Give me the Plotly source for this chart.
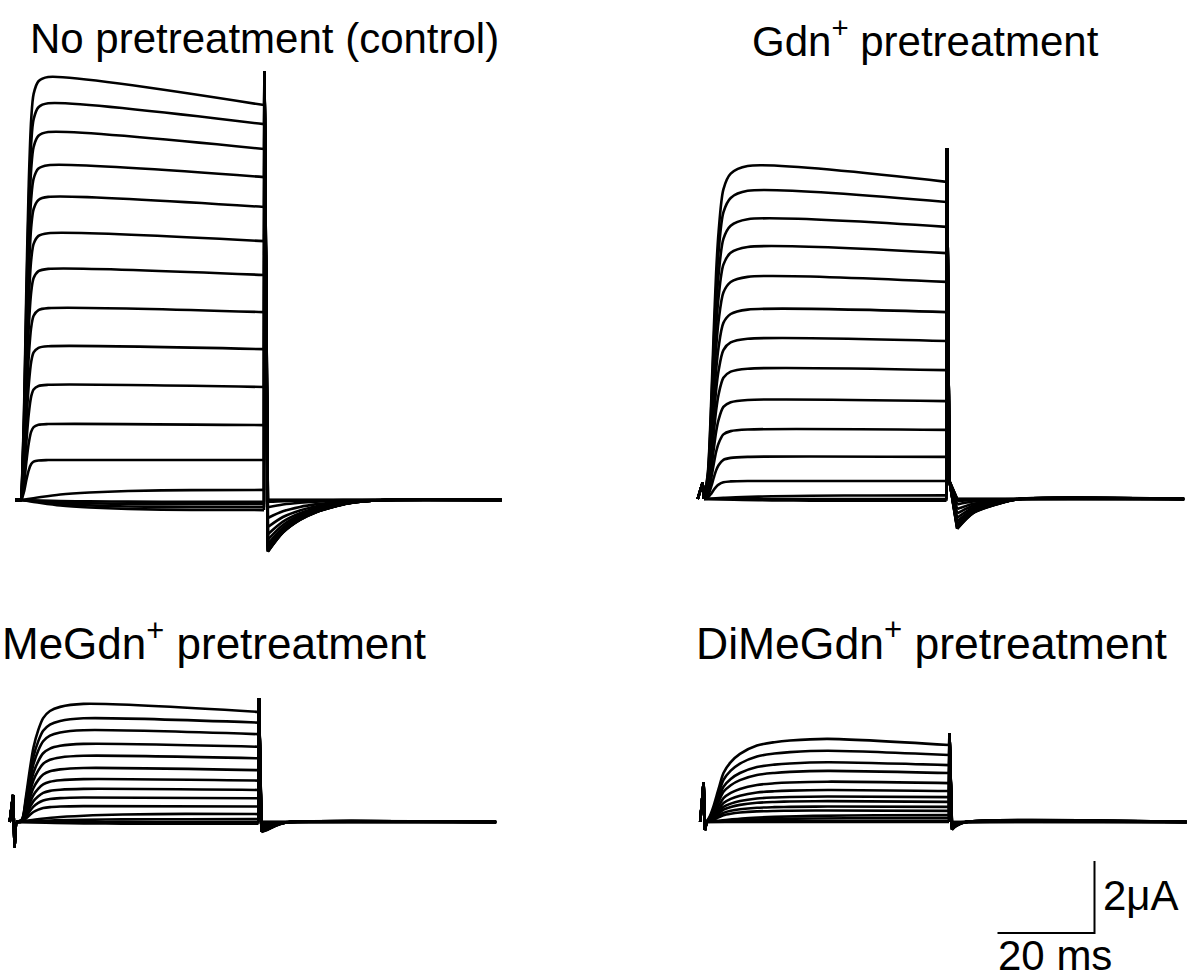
import plotly.graph_objects as go

W, H = 1189, 980
PX_PER_MS = 4.85      # horizontal scale (20 ms bar = 97 px)
PX_PER_UA = 36.0      # vertical scale (2 uA bar = 72 px)

STEP_MS = 50.0
T_START = -1.3
T_STOP = 99.0
SCALE_T = 20.0
SCALE_I = 2.0

# slow shape used for sweeps with tiny amplitude
SMALL_RISE_T = [0, 4, 8, 14, 22, 35]
SMALL_RISE_F = [0, 0.3, 0.55, 0.75, 0.9, 0.98]

# ---------------- No pretreatment (control) ----------------
CTRL_END = [10.97, 10.44, 9.75, 8.97, 8.14, 7.19, 6.25, 5.22, 4.19, 3.14, 2.08, 1.11, 0.28, -0.05, -0.12, -0.20, -0.28]
CTRL_PEAK = [11.75, 11.02, 10.22, 9.30, 8.42, 7.41, 6.42, 5.33, 4.27, 3.20, 2.11, 1.11, 0.28, -0.05, -0.12, -0.20, -0.28]
CTRL_TAIL = [-1.44, -1.43, -1.42, -1.40, -1.38, -1.35, -1.30, -1.22, -1.10, -0.95, -0.75, -0.50, -0.20, -0.05, 0.0, 0.0, 0.0]
CTRL_RISE_T = [0, 0.5, 1.0, 1.5, 2.0, 2.5, 3.5, 5.5]
CTRL_RISE_F = [0, 0.2, 0.5, 0.75, 0.9, 0.96, 0.99, 1.0]
CTRL_START_T, CTRL_START_V = [], []
CTRL_OFF_T, CTRL_OFF_V = [0.1], [11.9]
CTRL_TAIL_T = [0.8, 3.9, 7.4, 10.9, 14.2, 17.7, 25.0]
CTRL_TAIL_F = [1.0, 0.63, 0.385, 0.23, 0.135, 0.06, 0.0]

# ---------------- Gdn+ pretreatment ----------------
GDN_END = [8.81, 8.25, 7.56, 6.83, 6.03, 5.19, 4.39, 3.58, 2.72, 1.92, 1.17, 0.50, 0.10, 0.0, -0.05]
GDN_PEAK = [9.25, 8.56, 7.77, 7.00, 6.17, 5.26, 4.45, 3.62, 2.75, 1.93, 1.17, 0.50, 0.10, 0.0, -0.05]
GDN_TAIL = [-0.83, -0.82, -0.80, -0.78, -0.75, -0.70, -0.62, -0.52, -0.40, -0.28, -0.15, -0.06, 0.0, 0.0, 0.0]
GDN_RISE_T = [0, 0.8, 1.5, 2.0, 2.5, 3.0, 4.0, 5.5, 9.0]
GDN_RISE_F = [0, 0.08, 0.3, 0.5, 0.68, 0.8, 0.93, 0.977, 1.0]
GDN_START_T, GDN_START_V = [-0.3], [0.45]
GDN_OFF_T, GDN_OFF_V = [0.1, 0.6], [9.75, 0.5]
GDN_TAIL_T = [2.2, 5.5, 10.5, 15.0]
GDN_TAIL_F = [1.0, 0.47, 0.17, 0.0]

# ---------------- MeGdn+ pretreatment ----------------
MEGDN_END = [3.06, 2.76, 2.44, 2.09, 1.77, 1.44, 1.15, 0.89, 0.66, 0.43, 0.22, 0.08, 0.0, -0.05]
MEGDN_PEAK = [3.28, 2.88, 2.55, 2.17, 1.84, 1.50, 1.19, 0.92, 0.68, 0.44, 0.23, 0.08, 0.0, -0.05]
MEGDN_TAIL = [-0.28, -0.27, -0.26, -0.25, -0.23, -0.21, -0.18, -0.15, -0.12, -0.08, -0.05, 0.0, 0.0, 0.0]
MEGDN_RISE_T = [0, 1.2, 2.0, 2.8, 3.6, 4.6, 5.6, 7.0, 9.1, 13.9]
MEGDN_RISE_F = [0, 0.02, 0.2, 0.43, 0.63, 0.78, 0.88, 0.94, 0.975, 1.0]
MEGDN_START_T, MEGDN_START_V = [-0.6, -0.3], [0.75, -0.7]
MEGDN_OFF_T, MEGDN_OFF_V = [0.1], [3.44]
MEGDN_TAIL_T = [0.6, 1.75, 3.0, 4.5, 6.5]
MEGDN_TAIL_F = [1.0, 0.8, 0.5, 0.2, 0.0]

# ---------------- DiMeGdn+ pretreatment ----------------
DIMEGDN_END = [2.14, 1.86, 1.58, 1.36, 1.08, 0.86, 0.69, 0.56, 0.42, 0.31, 0.19, 0.11, 0.03, 0.0]
DIMEGDN_PEAK = [2.31, 1.98, 1.66, 1.42, 1.12, 0.89, 0.71, 0.58, 0.43, 0.32, 0.19, 0.11, 0.03, 0.0]
DIMEGDN_TAIL = [-0.22, -0.21, -0.20, -0.19, -0.17, -0.15, -0.13, -0.11, -0.09, -0.07, -0.05, -0.03, 0.0, 0.0]
DIMEGDN_RISE_T = [0, 0.7, 1.4, 2.5, 3.5, 5.0, 6.9, 10.4, 14.0, 17.2, 25.0]
DIMEGDN_RISE_F = [0, 0.07, 0.18, 0.4, 0.59, 0.72, 0.82, 0.92, 0.96, 0.98, 1.0]
DIMEGDN_START_T, DIMEGDN_START_V = [-0.6, -0.3], [1.1, -0.22]
DIMEGDN_OFF_T, DIMEGDN_OFF_V = [0.1], [2.47]
DIMEGDN_TAIL_T = [0.6, 1.5, 3.5]
DIMEGDN_TAIL_F = [1.0, 0.5, 0.0]

TITLES = ["No pretreatment (control)", "Gdn<sup>+</sup> pretreatment",
          "MeGdn<sup>+</sup> pretreatment", "DiMeGdn<sup>+</sup> pretreatment"]

PANELS = [
    dict(end=CTRL_END, peak=CTRL_PEAK, tail=CTRL_TAIL, rt=CTRL_RISE_T, rf=CTRL_RISE_F,
         st=CTRL_START_T, sv=CTRL_START_V, ot=CTRL_OFF_T, ov=CTRL_OFF_V,
         tt=CTRL_TAIL_T, tf=CTRL_TAIL_F),
    dict(end=GDN_END, peak=GDN_PEAK, tail=GDN_TAIL, rt=GDN_RISE_T, rf=GDN_RISE_F,
         st=GDN_START_T, sv=GDN_START_V, ot=GDN_OFF_T, ov=GDN_OFF_V,
         tt=GDN_TAIL_T, tf=GDN_TAIL_F),
    dict(end=MEGDN_END, peak=MEGDN_PEAK, tail=MEGDN_TAIL, rt=MEGDN_RISE_T, rf=MEGDN_RISE_F,
         st=MEGDN_START_T, sv=MEGDN_START_V, ot=MEGDN_OFF_T, ov=MEGDN_OFF_V,
         tt=MEGDN_TAIL_T, tf=MEGDN_TAIL_F),
    dict(end=DIMEGDN_END, peak=DIMEGDN_PEAK, tail=DIMEGDN_TAIL, rt=DIMEGDN_RISE_T, rf=DIMEGDN_RISE_F,
         st=DIMEGDN_START_T, sv=DIMEGDN_START_V, ot=DIMEGDN_OFF_T, ov=DIMEGDN_OFF_V,
         tt=DIMEGDN_TAIL_T, tf=DIMEGDN_TAIL_F),
]

# layout anchors in page pixels: (x of t=0, y of baseline, left, right, top, bottom)
GEOM = [
    (21.5, 500, 0, 594, 60, 600),
    (704.0, 499, 594, 1189, 60, 600),
    (16.0, 822, 0, 594, 660, 980),
    (706.5, 822, 594, 1189, 660, 980),
]
TITLE_POS = [(28, 38, 42), (750, 38, 42), (0, 640, 44), (694, 640, 44.5)]
LINE_W = 2.6

fig = go.Figure()
layout = dict(width=W, height=H, autosize=False, margin=dict(l=0, r=0, t=0, b=0),
              paper_bgcolor="white", plot_bgcolor="white", showlegend=False)


def seg(ts, vs, ax, smooth):
    line = dict(color="black", width=LINE_W)
    if smooth:
        line.update(shape="spline", smoothing=0.8)
    fig.add_trace(go.Scatter(x=ts, y=vs, mode="lines", xaxis="x" + ax, yaxis="y" + ax,
                             line=line, hoverinfo="skip"))


for k, (p, g) in enumerate(zip(PANELS, GEOM)):
    x0, y0, left, right, top, bottom = g
    ax = "" if k == 0 else str(k + 1)
    layout["xaxis" + ax] = dict(domain=[left / W, right / W],
                                range=[(left - x0) / PX_PER_MS, (right - x0) / PX_PER_MS],
                                visible=False, fixedrange=True, anchor="y" + ax)
    layout["yaxis" + ax] = dict(domain=[1 - bottom / H, 1 - top / H],
                                range=[(y0 - bottom) / PX_PER_UA, (y0 - top) / PX_PER_UA],
                                visible=False, fixedrange=True, anchor="x" + ax)
    for i in range(len(p["end"])):
        end, peak, tail = p["end"][i], p["peak"][i], p["tail"][i]
        small = abs(end) < 0.3
        rt = SMALL_RISE_T if small else p["rt"]
        rf = SMALL_RISE_F if small else p["rf"]
        # holding + on-transient (straight segments)
        seg([T_START] + list(p["st"]) + [rt[0]], [0.0] + list(p["sv"]) + [0.0], ax, False)
        # activation during the step (smooth)
        seg(list(rt) + [STEP_MS], [peak * f for f in rf] + [end], ax, True)
        # off-transient (straight segments)
        tail_pts = [tail * f for f in p["tf"]]
        seg([STEP_MS] + [STEP_MS + t for t in p["ot"]] + [STEP_MS + p["tt"][0]],
            [end] + list(p["ov"]) + [tail_pts[0]], ax, False)
        # tail current decay (smooth)
        seg([STEP_MS + t for t in p["tt"]] + [T_STOP], tail_pts + [0.0], ax, True)

# scale bar in DiMeGdn axes
SB_T0 = 60.0
SB_I0 = -3.08
fig.add_trace(go.Scatter(x=[SB_T0, SB_T0 + SCALE_T, SB_T0 + SCALE_T],
                         y=[SB_I0, SB_I0, SB_I0 + SCALE_I],
                         mode="lines", xaxis="x4", yaxis="y4",
                         line=dict(color="black", width=2), hoverinfo="skip"))

ann = []
for (tx, ty, fs), title in zip(TITLE_POS, TITLES):
    ann.append(dict(text=title, x=tx / W, y=1 - ty / H, xref="paper", yref="paper",
                    xanchor="left", yanchor="middle", showarrow=False,
                    font=dict(family="Liberation Sans, Arial, sans-serif", size=fs, color="black")))
SB_FONT = dict(family="Liberation Sans, Arial, sans-serif", size=42, color="black")
ann.append(dict(text="%dμA" % SCALE_I, x=1101 / W, y=1 - 895 / H, xref="paper", yref="paper",
                xanchor="left", yanchor="middle", showarrow=False, font=SB_FONT))
ann.append(dict(text="%d ms" % SCALE_T, x=996 / W, y=1 - 955 / H, xref="paper", yref="paper",
                xanchor="left", yanchor="middle", showarrow=False, font=SB_FONT))
layout["annotations"] = ann
fig.update_layout(**layout)
fig.write_html("out.html")
